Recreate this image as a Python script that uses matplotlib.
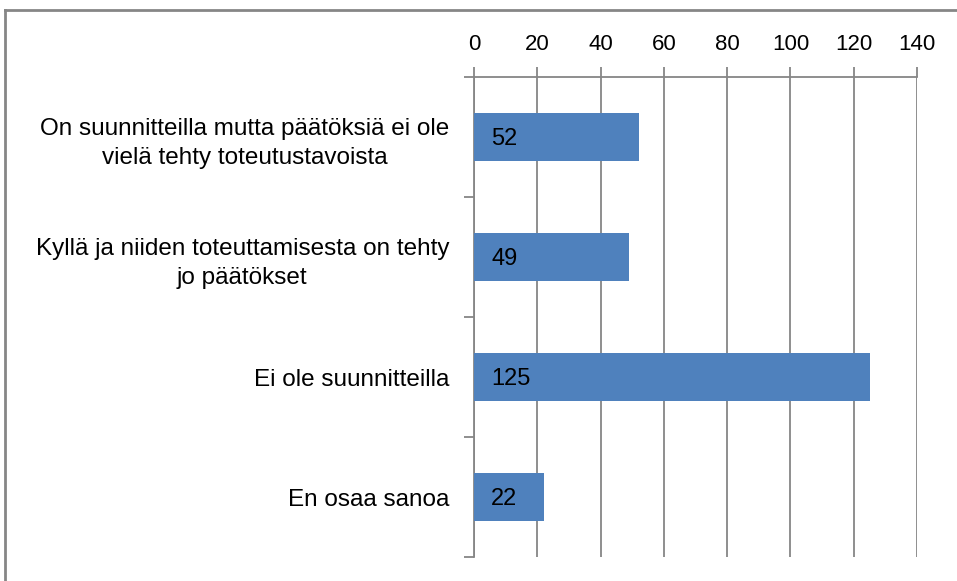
import matplotlib.pyplot as plt
from matplotlib.lines import Line2D

categories = ['On suunnitteilla mutta päätöksiä ei ole\nvielä tehty toteutustavoista',
              'Kyllä ja niiden toteuttamisesta on tehty\njo päätökset',
              'Ei ole suunnitteilla',
              'En osaa sanoa']
values = [52, 49, 125, 22]
xticks = [0, 20, 40, 60, 80, 100, 120, 140]

plt.rcParams['font.family'] = ['Liberation Sans', 'DejaVu Sans']
grey = '#868686'

fig = plt.figure(figsize=(9.57, 5.81), dpi=100)
ax = fig.add_axes([474 / 957, 1 - 557 / 581, (917 - 474) / 957, (557 - 77) / 581])

pos = list(range(len(categories)))
ax.barh(pos, values, height=0.4, color='#4F81BD', zorder=3)
for p, v in zip(pos, values):
    ax.text(5.4, p + 0.02, str(v), va='center', ha='left', fontsize=17, zorder=4)

ax.set_xlim(0, 140)
ax.set_ylim(3.5, -0.5)
ax.xaxis.tick_top()
ax.set_xticks(xticks)
ax.tick_params(axis='x', length=7, width=1.3, color=grey, labelsize=16, pad=9)
ax.grid(axis='x', color=grey, linewidth=1.3, zorder=0)

ax.set_yticks(pos)
ax.set_yticklabels(categories, fontsize=17.5, multialignment='center', linespacing=1.45)
ax.set_yticks([-0.5, 0.5, 1.5, 2.5, 3.5], minor=True)
ax.tick_params(axis='y', which='major', length=0, pad=18)
ax.tick_params(axis='y', which='minor', length=7, width=1.3, color=grey)

for s in ['right', 'bottom']:
    ax.spines[s].set_visible(False)
for s in ['left', 'top']:
    ax.spines[s].set_color(grey)
    ax.spines[s].set_linewidth(1.3)

# outer chart frame
fig.add_artist(Line2D([5 / 957, 5 / 957], [0, 1 - 10 / 581], transform=fig.transFigure, color=grey, linewidth=2))
fig.add_artist(Line2D([5 / 957, 1], [1 - 10 / 581, 1 - 10 / 581], transform=fig.transFigure, color=grey, linewidth=2))

fig.savefig('out.png', dpi=100)
